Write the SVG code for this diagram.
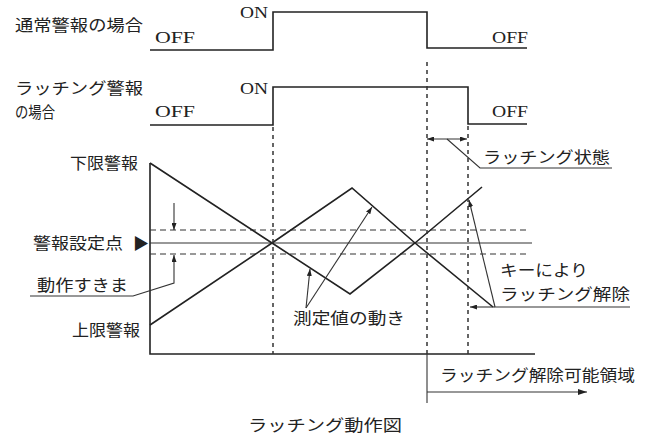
<svg xmlns="http://www.w3.org/2000/svg" width="645" height="439" viewBox="0 0 645 439">
<defs>
<marker id="ah" markerWidth="9" markerHeight="6" refX="9" refY="3" orient="auto" markerUnits="userSpaceOnUse"><path d="M0,0 L9,3 L0,6 z" fill="#222"/></marker>
<marker id="ahs" markerWidth="7" markerHeight="5" refX="7" refY="2.5" orient="auto-start-reverse" markerUnits="userSpaceOnUse"><path d="M0,0 L7,2.5 L0,5 z" fill="#222"/></marker>
</defs>
<style>
.ln{stroke:#222;stroke-width:1.6;fill:none}
.th{stroke:#333;stroke-width:1.1;fill:none}
.dh{stroke:#333;stroke-width:1.2;stroke-dasharray:6,4;fill:none}
.dv{stroke:#333;stroke-width:1.5;stroke-dasharray:4,4;fill:none}
.jp{font-family:"Noto Sans CJK JP",sans-serif;font-size:16px;fill:#222}
.en{font-family:"Liberation Serif",serif;font-size:16px;fill:#222}
</style>
<rect width="645" height="439" fill="#fff"/>

<g id="signal-normal">
<path class="ln" d="M150,50 H273 V12 H427 V48 H527"/>
<text class="jp" x="15" y="31" textLength="128" lengthAdjust="spacingAndGlyphs">通常警報の場合</text>
<text class="en" x="240" y="18" textLength="28" lengthAdjust="spacingAndGlyphs">ON</text>
<text class="en" x="155" y="43" textLength="40" lengthAdjust="spacingAndGlyphs">OFF</text>
<text class="en" x="492" y="43" textLength="36" lengthAdjust="spacingAndGlyphs">OFF</text>
</g>

<g id="signal-latching">
<path class="ln" d="M150,125 H273 V87 H468 V124 H527"/>
<text class="jp" x="15" y="94" textLength="128" lengthAdjust="spacingAndGlyphs">ラッチング警報</text>
<text class="jp" x="15" y="118" textLength="40" lengthAdjust="spacingAndGlyphs">の場合</text>
<text class="en" x="240" y="94" textLength="28" lengthAdjust="spacingAndGlyphs">ON</text>
<text class="en" x="155" y="117" textLength="40" lengthAdjust="spacingAndGlyphs">OFF</text>
<text class="en" x="492" y="117" textLength="36" lengthAdjust="spacingAndGlyphs">OFF</text>
</g>

<g id="graph">
<path class="ln" d="M150,163 V354 H535"/>
<path class="th" d="M150,243 H532"/>
<path class="dh" d="M150,230 H528 M150,254 H528"/>
<path class="ln" d="M150,163 L272,243 L350,294 L415,243 L482,187"/>
<path class="ln" d="M150,325 L272,243 L352,188 L415,243 L493,307"/>
<text class="jp" x="70" y="169" textLength="68" lengthAdjust="spacingAndGlyphs">下限警報</text>
<text class="jp" x="33" y="249" textLength="90" lengthAdjust="spacingAndGlyphs">警報設定点</text>
<text class="jp" x="133" y="249">▶</text>
<text class="jp" x="37" y="291" textLength="91" lengthAdjust="spacingAndGlyphs">動作すきま</text>
<text class="jp" x="72" y="336" textLength="68" lengthAdjust="spacingAndGlyphs">上限警報</text>
<text class="jp" x="293" y="324" textLength="112" lengthAdjust="spacingAndGlyphs">測定値の動き</text>
<text class="jp" x="483" y="163" textLength="127" lengthAdjust="spacingAndGlyphs">ラッチング状態</text>
<text class="jp" x="500" y="276" font-size="15" textLength="88" lengthAdjust="spacingAndGlyphs">キーにより</text>
<text class="jp" x="500" y="300" font-size="15" textLength="130" lengthAdjust="spacingAndGlyphs">ラッチング解除</text>
<text class="jp" x="440" y="381" textLength="195" lengthAdjust="spacingAndGlyphs">ラッチング解除可能領域</text>
<text class="jp" x="248" y="431" font-size="18" textLength="154" lengthAdjust="spacingAndGlyphs">ラッチング動作図</text>
</g>

<g id="connectors">
<path class="dv" d="M273,127 V354"/>
<path class="dv" d="M427,62 V354"/>
<path class="dv" d="M468,126 V354"/>
<path class="th" d="M427,354 V403"/>
<path class="th" d="M427,392 H587" marker-end="url(#ah)"/>
<path class="th" d="M174,203 V230" marker-end="url(#ahs)"/>
<path class="th" d="M30,296 H133 L174,283 V255" marker-end="url(#ahs)"/>
<path class="th" d="M427,139 H467" marker-start="url(#ahs)" marker-end="url(#ahs)"/>
<path class="th" d="M447,139 L480,168 H612"/>
<path class="th" d="M306,308 L310,269" marker-end="url(#ahs)"/>
<path class="th" d="M306,308 L372,207" marker-end="url(#ahs)"/>
<path class="th" d="M495,307 L469,200" marker-end="url(#ahs)"/>
<path class="th" d="M495,307 H630"/>
<path class="th" d="M495,307 H470" marker-end="url(#ahs)"/>
</g>
</svg>
